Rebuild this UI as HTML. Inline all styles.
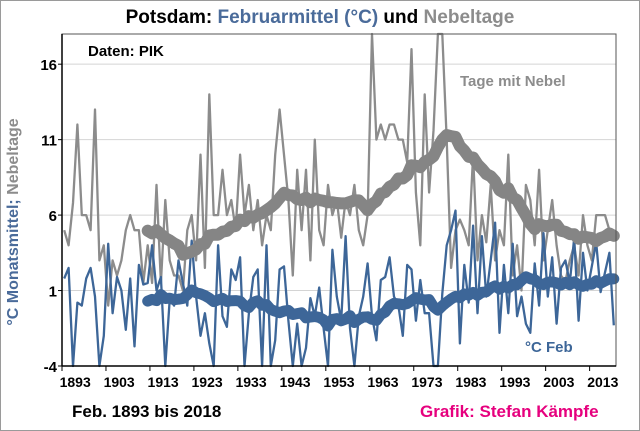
<!DOCTYPE html>
<html><head><meta charset="utf-8"><style>
body{margin:0;background:#fff;}
#wrap{position:relative;width:640px;height:431px;overflow:hidden;font-family:"Liberation Sans",sans-serif;}
</style></head><body>
<div id="wrap">
<svg id="svg" width="640" height="431" xmlns="http://www.w3.org/2000/svg">
<rect x="0.5" y="0.5" width="639" height="430" fill="#fff" stroke="#9a9a9a"/>
<text x="320" y="23" text-anchor="middle" font-size="19" font-weight="bold"><tspan fill="#000">Potsdam: </tspan><tspan fill="#4a6b9a">Februarmittel (°C)</tspan><tspan fill="#000"> und </tspan><tspan fill="#8c8c8c">Nebeltage</tspan></text>
<text transform="translate(18,222) rotate(-90)" text-anchor="middle" font-size="16" font-weight="bold"><tspan fill="#4a6b9a">°C Monatsmittel; </tspan><tspan fill="#8c8c8c">Nebeltage</tspan></text>
<g id="grid"></g>
<g id="series"></g>
<g id="axes"></g>
<text x="88" y="56" font-size="15" font-weight="bold" fill="#000">Daten: PIK</text>
<text x="460" y="86" font-size="15" font-weight="bold" fill="#8c8c8c">Tage mit Nebel</text>
<text x="525" y="352" font-size="15" font-weight="bold" fill="#3d6698">°C Feb</text>
<text x="72" y="417" font-size="17" font-weight="bold" fill="#000">Feb. 1893 bis 2018</text>
<text x="420" y="417" font-size="17" font-weight="bold" fill="#e6007e">Grafik: Stefan Kämpfe</text>
</svg>
</div>
<script>
const startYear = 1893;
const fogDays = [5,4,6.8,12,6,6,5,13,3,4, 0,3,2,3,5,6,5,5,1.5,4, 1.5,8,1.5,7,3,2,2,1,5,6, 3,10,2.5,14,6,6,9,6,7,5, 10,6,8,5,7,4,6,5,10,13, 10,7,2,9,5,9,3,11,5,4, 8,6,7,4.5,7,6,8,5,4,6,
 18,11,12,11,12,12,11,11,9.5,17,7.5,4,14,7.5,11.6,18,18,11,2.5,5, 5.7,5,4,10,3,6,4.2,8,3,5,4,10,2,4,1,8,7,4,9,3, 5,7,4,2,1.6,3,4,2,6,4,3,6,6,6,5,5];
const febTemp = [1.8,2.5,-6,0.2,0,1.8,2.5,0.6,-5,-2, 4.1,-0.5,1.9,1,-1.6,1.8,-2.7,2.7,1.4,1.5, 4,1,1.9,-5,0.4,0,3,1.5,0,4.3, 0.6,-2,-0.5,-2.5,-6,4,-0.7,-1.4,2.4,1.7, 3.2,-5,-0.5,1.9,2.4,-6,4,-5,-2.3,2.4, 2.6,-1,-6,-1.2,-5,-2.8,0.5,-0.7,1.2,-1.5,
 -5,3.7,0.6,-1,4.6,-1.5,-5,-0.7,0.6,2.8, -0.7,-2.3,1.7,1.9,3.2,0.6,0,-2,2.7,2.4, -1,1.7,-0.5,-0.5,-5,-6,0.8,4,5,6.3, -2.5,2.7,0.2,5.3,-0.5,4.6,0.6,3,5.5,-1.8, 2.7,-0.5,4.1,-0.7,0.6,-1.2,-1.8,2.8,0,4.8, 0.6,3.2,-1.2,2.5,3,1.5,4.5,-1,3.5,1, 2.6,4.2,0.9,2.2,3.5,-1.3];
const yTicks = [-4,1,6,11,16];
const xTickLabels = ['1893','1903','1913','1923','1933','1943','1953','1963','1973','1983','1993','2003','2013'];
const WINDOW = 20;

const L=62, R=616, T=34, B=366, yMin=-4, yMax=18;
const n = 126;
const step = (R-L)/n;
const xPos = i => L + (i+0.5)*step;
const yPos = v => B - (Math.max(yMin,Math.min(yMax,v))-yMin)/(yMax-yMin)*(B-T);
const NS='http://www.w3.org/2000/svg';
function mk(tag, parent, attrs){const e=document.createElementNS(NS,tag);for(const k in attrs)e.setAttribute(k,attrs[k]);parent.appendChild(e);return e;}
const grid=document.getElementById('grid'), series=document.getElementById('series'), axes=document.getElementById('axes');

yTicks.forEach(v=>{
  const g=mk('line',grid,{x1:L,x2:R,y1:yPos(v),y2:yPos(v),stroke:'#d4d4d4','stroke-width':1});
  
  
  const t=mk('text',axes,{x:L-5,y:yPos(v)+6,'text-anchor':'end','font-size':15,'font-weight':'bold',fill:'#000'});
  t.textContent=v;
  
  
  const tk=mk('line',axes,{x1:L-4,x2:L,y1:yPos(v),y2:yPos(v),stroke:'#000'});
  
  
});
const pa=mk('rect',axes,{x:L,y:T,width:R-L,height:B-T,fill:'none',stroke:'#555','stroke-width':1});


const ya=mk('line',axes,{x1:L,x2:L,y1:T,y2:B,stroke:'#000','stroke-width':1.5});


const xa=mk('line',axes,{x1:L,x2:R,y1:B,y2:B,stroke:'#000','stroke-width':1.5});


xTickLabels.forEach((lab,k)=>{
  const i=k*10;
  const tk=mk('line',axes,{x1:L+i*step,x2:L+i*step,y1:B,y2:B+5,stroke:'#000'});
  
  
  const t=mk('text',axes,{x:xPos(i)+11,y:B+21,'text-anchor':'middle','font-size':14,'font-weight':'bold',fill:'#000'});
  t.textContent=lab;
  
  
});

function pathOf(arr, offset){return arr.map((v,i)=>(i?'L':'M')+xPos(i+offset).toFixed(1)+','+yPos(v).toFixed(1)).join(' ');}
function movAvg(arr){const o=[];for(let i=WINDOW-1;i<arr.length;i++){let s=0;for(let j=i-WINDOW+1;j<=i;j++)s+=arr[j];o.push(s/WINDOW);}return o;}

const fogRaw=mk('path',series,{d:pathOf(fogDays,0),fill:'none',stroke:'#8c8c8c','stroke-width':2.3,'stroke-linejoin':'round'});


const tRaw=mk('path',series,{d:pathOf(febTemp,0),fill:'none',stroke:'#3d6698','stroke-width':2.3,'stroke-linejoin':'round'});


const fogS=mk('path',series,{d:pathOf(movAvg(fogDays),WINDOW-1),fill:'none',stroke:'#858585','stroke-width':12,'stroke-linejoin':'round','stroke-linecap':'round'});


const tS=mk('path',series,{d:pathOf(movAvg(febTemp),WINDOW-1),fill:'none',stroke:'#3d6698','stroke-width':11,'stroke-linejoin':'round','stroke-linecap':'round'});


</script>
</body></html>
